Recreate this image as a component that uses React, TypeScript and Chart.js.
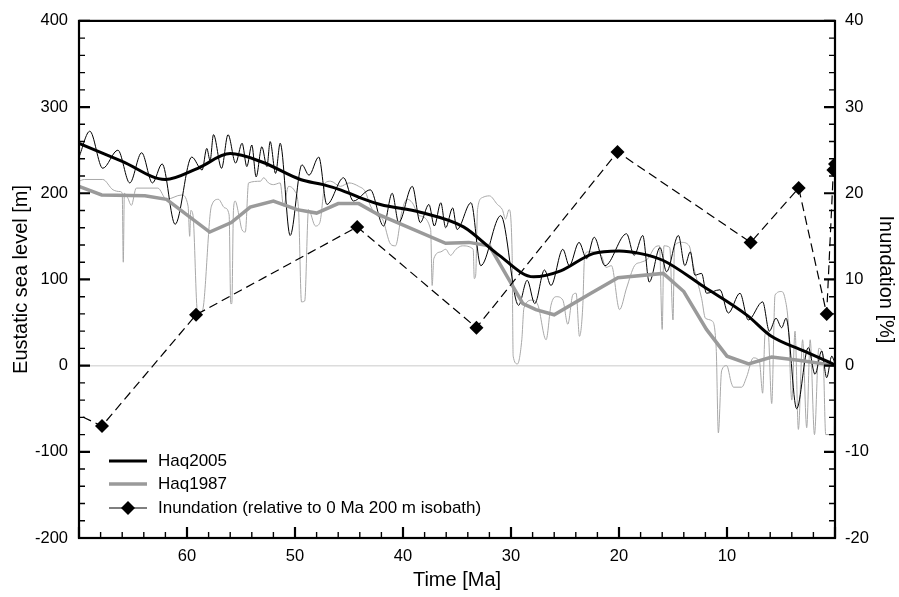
import React, { useEffect, useRef } from 'react';
import { Chart, registerables } from 'chart.js';

Chart.register(...registerables);

const FONT = '"Liberation Sans", Arial, Helvetica, sans-serif';

// ---- tick labels ----
const xTickValues = [60, 50, 40, 30, 20, 10];
const leftTickValues = [-200, -100, 0, 100, 200, 300, 400];
const rightTickValues = [-20, -10, 0, 10, 20, 30, 40];

// ---- Haq2005 (thin, high-frequency) ----
const haq2005Age = [70, 69.0, 67.8, 66.4, 65.3, 64.2, 63.2, 62.3, 61.1, 59.56, 58.6, 58.17, 57.86, 57.55, 56.8, 56.2, 55.5, 54.9, 54.46, 54.0, 53.6, 53.07, 52.6, 52.3, 51.8, 51.37, 50.45, 49.36, 48.7, 47.8, 47.05, 45.5, 44.6, 43.03, 41.8, 41.0, 40.4, 39.14, 38.4, 37.6, 37.1, 36.5, 36.05, 35.4, 35.0, 33.7, 32.8, 30.95, 29.3, 28.5, 27.8, 26.9, 26.3, 25.2, 24.6, 23.7, 23.0, 22.3, 21.3, 19.3, 18.6, 17.8, 17.2, 16.2, 15.6, 14.5, 13.9, 13.4, 12.97, 12.35, 11.9, 10.65, 9.88, 8.8, 8.03, 6.7, 6.08, 5.46, 4.94, 4.53, 3.55, 2.47, 1.85, 1.23, 0.77, 0.3, 0];
const haq2005Level = [242, 272, 229, 250, 212, 247, 212, 234, 164, 242, 227, 252, 238, 268, 229, 268, 235, 258, 231, 256, 219, 254, 231, 260, 223, 258, 151, 233, 221, 242, 187, 218, 191, 204, 162, 200, 166, 208, 166, 187, 162, 189, 160, 183, 158, 189, 116, 174, 70, 99, 72, 111, 93, 135, 116, 143, 124, 149, 116, 153, 128, 151, 97, 137, 109, 151, 116, 132, 105, 107, 84, 88, 61, 84, 53, 74, 40, 55, 44, 55, -50, 21, -10, 17, -14, 11, 2];

// ---- Haq1987 (thin) ----
const haq1987Age = [70, 69.5, 67.8, 66.85, 66.2, 66.0, 65.9, 65.8, 65.5, 65.15, 64.7, 62.7, 61.9, 60.5, 59.9, 59.75, 59.65, 59.44, 59.03, 58.6, 57.74, 57.1, 56.5, 56.1, 55.95, 55.85, 55.7, 55.54, 55.2, 54.92, 54.6, 54.3, 53.2, 52.9, 52.45, 52.0, 51.37, 51.06, 50.6, 50.0, 49.67, 49.4, 49.1, 48.75, 48.1, 47.7, 47.2, 46.7, 45.8, 45.0, 44.1, 43.5, 43.0, 42.4, 41.9, 41.15, 40.7, 40.07, 39.6, 39.14, 38.5, 37.44, 37.3, 37.15, 36.5, 36.05, 35.6, 35.1, 34.5, 33.5, 33.4, 33.27, 33.1, 32.65, 32.0, 31.26, 30.8, 30.5, 30.18, 29.9, 29.8, 29.4, 29.0, 28.8, 28.05, 27.5, 26.75, 26.3, 25.8, 25.2, 24.74, 24.28, 23.97, 23.66, 23.35, 23.2, 22.9, 22.4, 21.65, 21.2, 20.7, 19.95, 19.3, 18.56, 17.95, 17.33, 16.7, 16.25, 16.0, 15.84, 15.3, 15.0, 14.86, 14.2, 13.5, 13.12, 12.35, 12.0, 11.4, 11.0, 10.8, 10.5, 10.03, 9.6, 9.4, 8.64, 8.18, 7.56, 7.0, 6.7, 6.48, 6.2, 5.86, 5.55, 4.94, 4.63, 4.32, 4.0, 3.7, 3.39, 3.0, 2.62, 2.3, 1.9, 1.5, 1.1, 0.86, 0.1, 0];
const haq1987Level = [214, 216, 216, 204, 202, 200, 120, 200, 195, 186, 206, 206, 193, 198, 185, 150, 180, 174, 63, 63, 185, 193, 183, 175, 72, 72, 180, 191, 175, 158, 155, 212, 214, 218, 212, 210, 212, 185, 208, 202, 181, 74, 75, 181, 162, 166, 212, 214, 208, 212, 208, 202, 185, 174, 170, 141, 139, 181, 193, 189, 174, 158, 93, 124, 132, 135, 128, 135, 139, 135, 101, 105, 181, 195, 197, 187, 181, 170, 181, 132, 11, 2, 30, 67, 76, 70, 30, 70, 80, 76, 48, 82, 84, 34, 70, 124, 132, 132, 128, 114, 116, 65, 90, 116, 120, 124, 137, 139, 42, 139, 137, 53, 139, 143, 139, 116, 78, 55, 52, 20, -78, -6, 0, -20, -25, -25, -13, 9, 5, -32, 36, 40, -44, 82, 86, 78, 48, -40, 40, -74, 30, -72, 30, -80, 20, 10, -80, -80, 15];

// ---- Smoothed trends (thick) ----
const haq2005TrendAge = [70, 66, 62, 59, 56, 53, 49.5, 47.4, 45.8, 44, 42.1, 38.4, 34.4, 31.3, 27.9, 25.4, 22.4, 20, 18, 15.9, 12.2, 8.1, 6.0, 2.9, 0];
const haq2005TrendLevel = [258, 237, 216, 229, 246, 236, 216, 210, 204, 195, 187, 178, 161, 130, 103, 110, 130, 133, 130, 122, 92, 58, 35, 17, 1];
const haq1987TrendAge = [70, 67.9, 63.9, 61.9, 57.9, 55.9, 54.15, 52.0, 49.8, 48.0, 46.0, 44.1, 42.4, 36.05, 33.9, 32.0, 28.9, 27.7, 26.0, 22.6, 20.1, 15.9, 14.0, 11.9, 10.0, 8.0, 5.86, 3.2, 0];
const haq1987TrendLevel = [208, 198, 197, 193, 155, 166, 184, 191, 181, 177, 188, 188, 176, 142, 143, 139, 72, 65, 59, 84, 102, 107, 86, 42, 11, 2, 10, 6, 0];

// ---- Inundation [%] (right axis) ----
const inundationAge = [72, 67.87, 59.16, 44.24, 33.2, 20.14, 7.81, 3.36, 0.77, 0.15, 0];
const inundationPct = [-4.6, -7.0, 5.9, 16.1, 4.4, 24.8, 14.3, 20.6, 6.0, 22.7, 23.4];

const X_MINOR_STEP = 2;
const X_MAJOR_STEP = 10;
const Y_MINOR_STEP = 20;
const Y_MAJOR_STEP = 100;

const pts = (xs: number[], ys: number[]) => xs.map((x, i) => ({ x, y: ys[i] }));

const frameAndTicks = {
  id: 'frameAndTicks',
  beforeDatasetsDraw(chart: any) {
    const { ctx, chartArea: a, scales } = chart;
    const py = scales.y.getPixelForValue(0);
    ctx.save();
    ctx.strokeStyle = '#dcdcdc';
    ctx.lineWidth = 1.5;
    ctx.beginPath();
    ctx.moveTo(a.left, py);
    ctx.lineTo(a.right, py);
    ctx.stroke();
    ctx.restore();
  },
  afterDraw(chart: any) {
    const { ctx, chartArea: a, scales } = chart;
    ctx.save();
    ctx.strokeStyle = '#000';
    ctx.lineCap = 'butt';
    const xs = scales.x;
    for (let v = xs.min; v <= xs.max + 1e-9; v += X_MINOR_STEP) {
      const px = xs.getPixelForValue(v);
      const major = Math.abs(v % X_MAJOR_STEP) < 1e-9;
      ctx.lineWidth = major ? 2.2 : 1.4;
      ctx.beginPath();
      ctx.moveTo(px, a.bottom);
      ctx.lineTo(px, a.bottom - (major ? 11 : 6));
      ctx.stroke();
    }
    const ys = scales.y;
    for (let v = ys.min; v <= ys.max + 1e-9; v += Y_MINOR_STEP) {
      const py = ys.getPixelForValue(v);
      const major = Math.abs(v % Y_MAJOR_STEP) < 1e-9;
      ctx.lineWidth = major ? 2.2 : 1.4;
      const len = major ? 11 : 6;
      ctx.beginPath();
      ctx.moveTo(a.left, py);
      ctx.lineTo(a.left + len, py);
      ctx.moveTo(a.right, py);
      ctx.lineTo(a.right - len, py);
      ctx.stroke();
    }
    ctx.lineWidth = 2.2;
    ctx.strokeRect(a.left, a.top, a.right - a.left, a.bottom - a.top);

    // legend
    const lx = a.left + 30;
    const tx = a.left + 79;
    const rows = [a.bottom - 77, a.bottom - 54, a.bottom - 30];
    ctx.font = `17px ${FONT}`;
    ctx.textBaseline = 'middle';
    ctx.fillStyle = '#000';
    ctx.strokeStyle = '#000';
    ctx.lineWidth = 3;
    ctx.beginPath(); ctx.moveTo(lx, rows[0]); ctx.lineTo(lx + 38, rows[0]); ctx.stroke();
    ctx.fillText('Haq2005', tx, rows[0]);
    ctx.strokeStyle = '#9a9a9a';
    ctx.lineWidth = 3.5;
    ctx.beginPath(); ctx.moveTo(lx, rows[1]); ctx.lineTo(lx + 38, rows[1]); ctx.stroke();
    ctx.fillText('Haq1987', tx, rows[1]);
    ctx.strokeStyle = '#000';
    ctx.lineWidth = 1.2;
    ctx.beginPath(); ctx.moveTo(lx, rows[2]); ctx.lineTo(lx + 38, rows[2]); ctx.stroke();
    const cx = lx + 19;
    const r = 7;
    ctx.beginPath();
    ctx.moveTo(cx, rows[2] - r);
    ctx.lineTo(cx + r, rows[2]);
    ctx.lineTo(cx, rows[2] + r);
    ctx.lineTo(cx - r, rows[2]);
    ctx.closePath();
    ctx.fill();
    ctx.fillText('Inundation (relative to 0 Ma 200 m isobath)', tx, rows[2]);
    ctx.restore();
  },
};

export default function App() {
  const ref = useRef<HTMLCanvasElement | null>(null);

  useEffect(() => {
    if (!ref.current) return;
    const tickFont = { family: FONT, size: 16.5 };
    const titleFont = { family: FONT, size: 20 };
    const chart = new Chart(ref.current, {
      type: 'line',
      data: {
        datasets: [
          {
            label: 'Inundation (relative to 0 Ma 200 m isobath)',
            data: pts(inundationAge, inundationPct),
            yAxisID: 'y2',
            borderColor: '#000',
            backgroundColor: '#000',
            borderWidth: 1.2,
            borderDash: [9, 5],
            pointStyle: 'rectRot',
            pointRadius: 7,
            pointBorderWidth: 0,
            pointBackgroundColor: '#000',
            tension: 0,
            order: 0,
          },
          {
            label: 'Haq2005',
            data: pts(haq2005TrendAge, haq2005TrendLevel),
            yAxisID: 'y',
            borderColor: '#000',
            borderWidth: 3,
            pointRadius: 0,
            cubicInterpolationMode: 'monotone',
            order: 1,
          },
          {
            label: 'Haq1987',
            data: pts(haq1987TrendAge, haq1987TrendLevel),
            yAxisID: 'y',
            borderColor: '#9a9a9a',
            borderWidth: 3.5,
            pointRadius: 0,
            tension: 0,
            order: 2,
          },
          {
            label: 'Haq2005 raw',
            data: pts(haq2005Age, haq2005Level),
            yAxisID: 'y',
            borderColor: '#000',
            borderWidth: 1,
            pointRadius: 0,
            cubicInterpolationMode: 'monotone',
            order: 3,
          },
          {
            label: 'Haq1987 raw',
            data: pts(haq1987Age, haq1987Level),
            yAxisID: 'y',
            borderColor: '#a8a8a8',
            borderWidth: 1,
            pointRadius: 0,
            cubicInterpolationMode: 'monotone',
            order: 4,
          },
        ],
      },
      options: {
        animation: false,
        responsive: false,
        devicePixelRatio: 1,
        events: [],
        layout: { padding: { top: 14, left: 0, right: 0, bottom: 0 } },
        plugins: { legend: { display: false }, tooltip: { enabled: false } },
        scales: {
          x: {
            type: 'linear',
            reverse: true,
            min: 0,
            max: 70,
            afterBuildTicks: (s: any) => { s.ticks = xTickValues.map((v) => ({ value: v })); },
            afterFit: (s: any) => { s.height = 59; },
            ticks: { color: '#000', font: tickFont, padding: 9, maxRotation: 0, autoSkip: false },
            grid: { display: false, drawTicks: false },
            border: { display: false },
            title: { display: true, text: 'Time [Ma]', color: '#000', font: titleFont, padding: { top: 0, bottom: 5 } },
          },
          y: {
            type: 'linear',
            position: 'left',
            min: -200,
            max: 400,
            afterBuildTicks: (s: any) => { s.ticks = leftTickValues.map((v) => ({ value: v })); },
            afterFit: (s: any) => { s.width = 79; },
            ticks: { color: '#000', font: tickFont, padding: 11 },
            grid: { display: false, drawTicks: false },
            border: { display: false },
            title: { display: true, text: 'Eustatic sea level [m]', color: '#000', font: titleFont, padding: { top: 9, bottom: 0 } },
          },
          y2: {
            type: 'linear',
            position: 'right',
            min: -20,
            max: 40,
            afterBuildTicks: (s: any) => { s.ticks = rightTickValues.map((v) => ({ value: v })); },
            afterFit: (s: any) => { s.width = 64; },
            ticks: { color: '#000', font: tickFont, padding: 10 },
            grid: { display: false, drawTicks: false },
            border: { display: false },
            title: { display: true, text: 'Inundation [%]', color: '#000', font: titleFont, padding: { top: 1, bottom: 0 } },
          },
        },
      },
      plugins: [frameAndTicks],
    } as any);
    return () => chart.destroy();
  }, []);

  return (
    <div style={{ position: 'absolute', left: 0, top: 0, width: 899, height: 597, background: '#fff' }}>
      <canvas ref={ref} width={899} height={597} style={{ width: 899, height: 597, display: 'block' }} />
    </div>
  );
}
